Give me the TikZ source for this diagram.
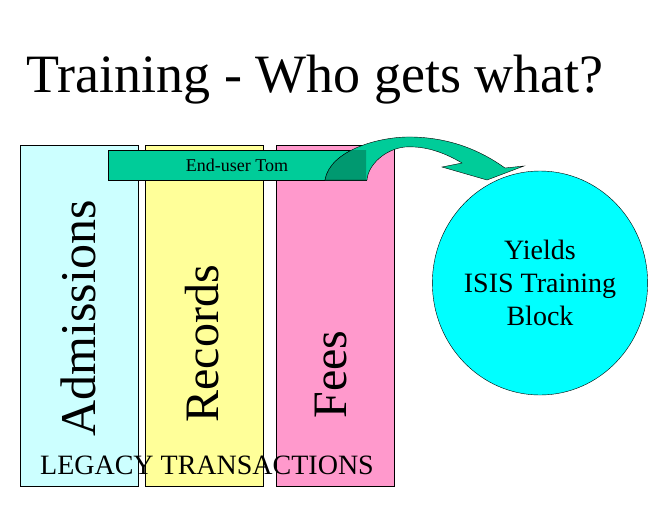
\documentclass[tikz,border=0pt]{standalone}
\usepackage{fontspec}
\setmainfont{Liberation Serif}
\usetikzlibrary{shapes.geometric}
\begin{document}
\begin{tikzpicture}[x=1pt,y=-1pt,
  col/.style={draw=black,line width=0.6pt},
  vlab/.style={rotate=90,anchor=west,font=\fontsize{48}{48}\selectfont}]
\useasboundingbox (0,0) rectangle (648,504);
\node[font=\fontsize{54}{54}\selectfont] (title) at (315,80) {Training - Who gets what?};
\filldraw[col,fill={rgb,255:red,204;green,255;blue,255}] (20,145) rectangle (138,486);
\filldraw[col,fill={rgb,255:red,255;green,255;blue,153}] (145,145) rectangle (263,486);
\filldraw[col,fill={rgb,255:red,255;green,153;blue,204}] (276,145) rectangle (394,486);
\node[vlab,font=\fontsize{50}{50}\selectfont] (adm) at (78,440) {Admissions};
\node[vlab] (rec) at (202,426) {Records};
\node[vlab] (fee) at (331,422) {Fees};
\node[font=\fontsize{28}{28}\selectfont] (leg) at (207,465) {LEGACY TRANSACTIONS};
\node[draw=black,fill={rgb,255:red,0;green,204;blue,153},minimum width=258pt,minimum height=30pt,inner sep=0pt,font=\fontsize{18}{18}\selectfont] (bar) at (237,165) {End-user Tom};
\def\arr{(325,180) .. controls (330,150) and (380,136) .. (413,137) .. controls (450,138) and (480,150) .. (505,168) -- (524,166) -- (487,180) -- (442,167) -- (462,163) .. controls (440,150) and (422,146) .. (405,147) .. controls (385,149) and (368,165) .. (367,180) -- cycle}
\filldraw[draw=black,fill={rgb,255:red,0;green,204;blue,153}] \arr;
\begin{scope}
\clip (108,150) rectangle (366,180);
\filldraw[draw=black,fill={rgb,255:red,0;green,153;blue,112}] \arr;
\end{scope}
\node[draw=black,fill={rgb,255:red,0;green,255;blue,255},ellipse,minimum width=162pt,minimum height=224pt,inner sep=0pt,align=center,font=\fontsize{28}{33}\selectfont] (yld) at (540,283) {Yields\\ISIS Training\\Block};
\end{tikzpicture}
\end{document}
